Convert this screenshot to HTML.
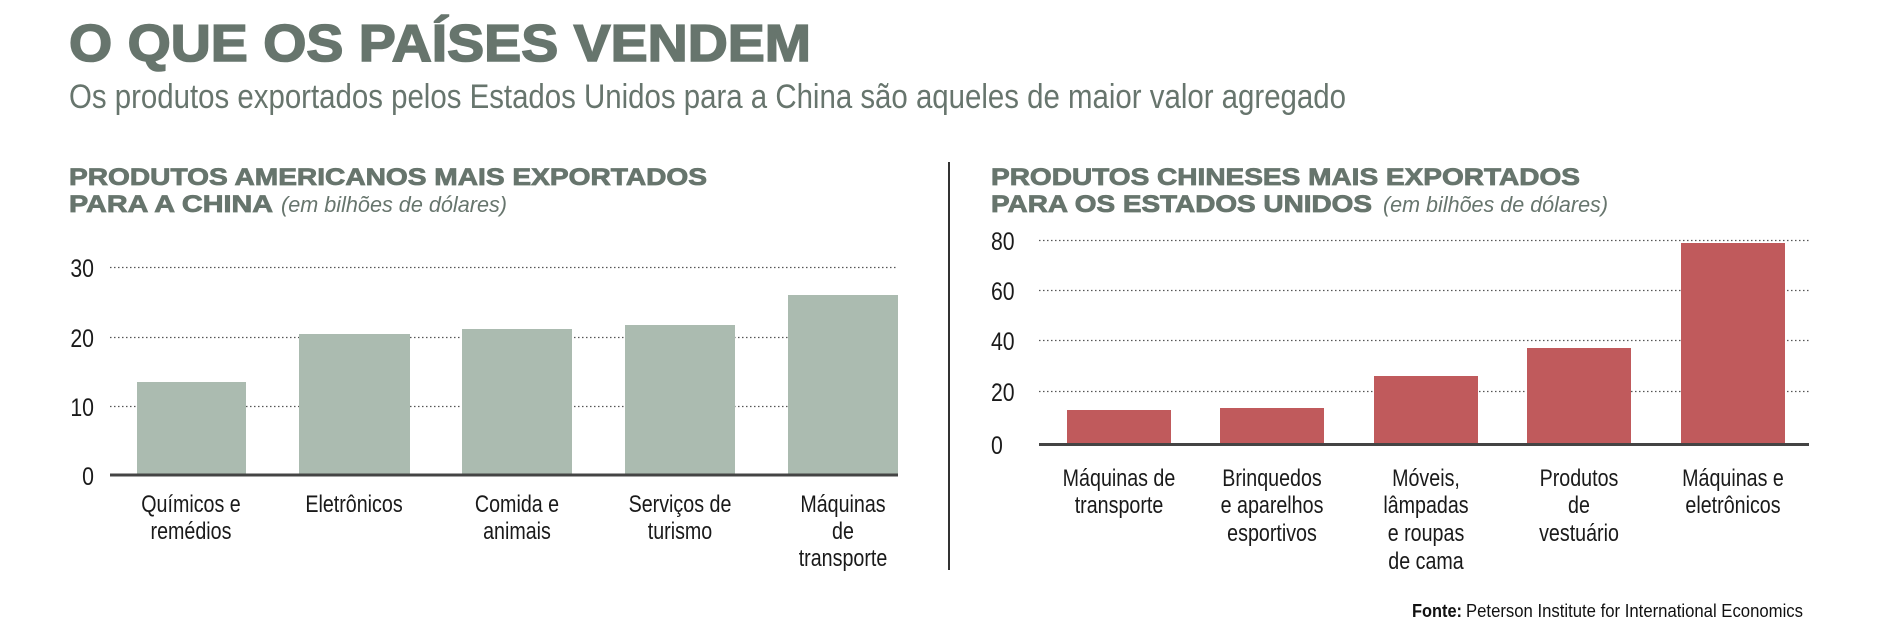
<!DOCTYPE html>
<html><head><meta charset="utf-8"><style>
html,body{margin:0;padding:0;background:#fff;}
svg{display:block;}
.t{font-family:"Liberation Sans",sans-serif;}
.n{font-family:"Liberation Sans Narrow","Liberation Sans",sans-serif;}
</style></head><body>
<svg width="1878" height="640" viewBox="0 0 1878 640" xmlns="http://www.w3.org/2000/svg">
<g fill="#67756d">
<text class="t" x="69" y="61" font-size="52" font-weight="bold" stroke="#67756d" stroke-width="1.6" textLength="742" lengthAdjust="spacingAndGlyphs">O QUE OS PAÍSES VENDEM</text>
<text class="n" x="69" y="108" font-size="34" textLength="1277" lengthAdjust="spacingAndGlyphs">Os produtos exportados pelos Estados Unidos para a China são aqueles de maior valor agregado</text>
<text class="t" x="69" y="185" font-size="24" font-weight="bold" stroke="#67756d" stroke-width="0.8" textLength="638" lengthAdjust="spacingAndGlyphs">PRODUTOS AMERICANOS MAIS EXPORTADOS</text>
<text class="t" x="69" y="212" font-size="24" font-weight="bold" stroke="#67756d" stroke-width="0.8" textLength="204" lengthAdjust="spacingAndGlyphs">PARA A CHINA</text>
<text class="n" x="281" y="212" font-size="22" font-style="italic" textLength="226" lengthAdjust="spacingAndGlyphs">(em bilhões de dólares)</text>
<text class="t" x="991" y="185" font-size="24" font-weight="bold" stroke="#67756d" stroke-width="0.8" textLength="589" lengthAdjust="spacingAndGlyphs">PRODUTOS CHINESES MAIS EXPORTADOS</text>
<text class="t" x="991" y="212" font-size="24" font-weight="bold" stroke="#67756d" stroke-width="0.8" textLength="381" lengthAdjust="spacingAndGlyphs">PARA OS ESTADOS UNIDOS</text>
<text class="n" x="1383" y="212" font-size="22" font-style="italic" textLength="225" lengthAdjust="spacingAndGlyphs">(em bilhões de dólares)</text>
</g>
<line x1="949" y1="162" x2="949" y2="570" stroke="#333" stroke-width="2"/>
<!-- left chart -->
<g stroke="#555" stroke-width="1.3" stroke-dasharray="1.5,2.5">
<line x1="110" y1="267.5" x2="898" y2="267.5"/>
<line x1="110" y1="337.5" x2="898" y2="337.5"/>
<line x1="110" y1="406.5" x2="898" y2="406.5"/>
</g>
<g fill="#abbbb0">
<rect x="137" y="382" width="109" height="93"/>
<rect x="299" y="334" width="111" height="141"/>
<rect x="462" y="329" width="110" height="146"/>
<rect x="625" y="325" width="110" height="150"/>
<rect x="788" y="295" width="110" height="180"/>
</g>
<line x1="110" y1="475" x2="898" y2="475" stroke="#444" stroke-width="3"/>
<g class="n" fill="#1a1a1a" font-size="25" text-anchor="end">
<text x="94" y="277" transform="translate(94,0) scale(0.85,1) translate(-94,0)">30</text>
<text x="94" y="347" transform="translate(94,0) scale(0.85,1) translate(-94,0)">20</text>
<text x="94" y="416" transform="translate(94,0) scale(0.85,1) translate(-94,0)">10</text>
<text x="94" y="485" transform="translate(94,0) scale(0.85,1) translate(-94,0)">0</text>
</g>
<g class="n" fill="#1a1a1a" font-size="24" text-anchor="middle">
<g transform="translate(191,0) scale(0.82,1)"><text x="0" y="512">Químicos e</text><text x="0" y="539">remédios</text></g>
<g transform="translate(354,0) scale(0.82,1)"><text x="0" y="512">Eletrônicos</text></g>
<g transform="translate(517,0) scale(0.82,1)"><text x="0" y="512">Comida e</text><text x="0" y="539">animais</text></g>
<g transform="translate(680,0) scale(0.82,1)"><text x="0" y="512">Serviços de</text><text x="0" y="539">turismo</text></g>
<g transform="translate(843,0) scale(0.82,1)"><text x="0" y="512">Máquinas</text><text x="0" y="539">de</text><text x="0" y="566">transporte</text></g>
</g>
<!-- right chart -->
<g stroke="#555" stroke-width="1.3" stroke-dasharray="1.5,2.5">
<line x1="1039" y1="240.5" x2="1809" y2="240.5"/>
<line x1="1039" y1="290.5" x2="1809" y2="290.5"/>
<line x1="1039" y1="340.5" x2="1809" y2="340.5"/>
<line x1="1039" y1="391.5" x2="1809" y2="391.5"/>
</g>
<g fill="#c05a5c">
<rect x="1067" y="410" width="104" height="34"/>
<rect x="1220" y="408" width="104" height="36"/>
<rect x="1374" y="376" width="104" height="68"/>
<rect x="1527" y="348" width="104" height="96"/>
<rect x="1681" y="243" width="104" height="201"/>
</g>
<line x1="1039" y1="444.5" x2="1809" y2="444.5" stroke="#444" stroke-width="3"/>
<g class="n" fill="#1a1a1a" font-size="25" transform="translate(991,0) scale(0.85,1) translate(-991,0)">
<text x="991" y="250">80</text><text x="991" y="300">60</text><text x="991" y="350">40</text><text x="991" y="401">20</text><text x="991" y="454">0</text>
</g>
<g class="n" fill="#1a1a1a" font-size="24" text-anchor="middle">
<g transform="translate(1119,0) scale(0.82,1)"><text x="0" y="486">Máquinas de</text><text x="0" y="513">transporte</text></g>
<g transform="translate(1272,0) scale(0.82,1)"><text x="0" y="486">Brinquedos</text><text x="0" y="513">e aparelhos</text><text x="0" y="541">esportivos</text></g>
<g transform="translate(1426,0) scale(0.82,1)"><text x="0" y="486">Móveis,</text><text x="0" y="513">lâmpadas</text><text x="0" y="541">e roupas</text><text x="0" y="569">de cama</text></g>
<g transform="translate(1579,0) scale(0.82,1)"><text x="0" y="486">Produtos</text><text x="0" y="513">de</text><text x="0" y="541">vestuário</text></g>
<g transform="translate(1733,0) scale(0.82,1)"><text x="0" y="486">Máquinas e</text><text x="0" y="513">eletrônicos</text></g>
</g>
<text class="n" x="1412" y="617" font-size="18" font-weight="bold" fill="#111" textLength="50" lengthAdjust="spacingAndGlyphs">Fonte:</text>
<text class="n" x="1466" y="617" font-size="18" fill="#111" textLength="337" lengthAdjust="spacingAndGlyphs">Peterson Institute for International Economics</text>
</svg>
</body></html>
